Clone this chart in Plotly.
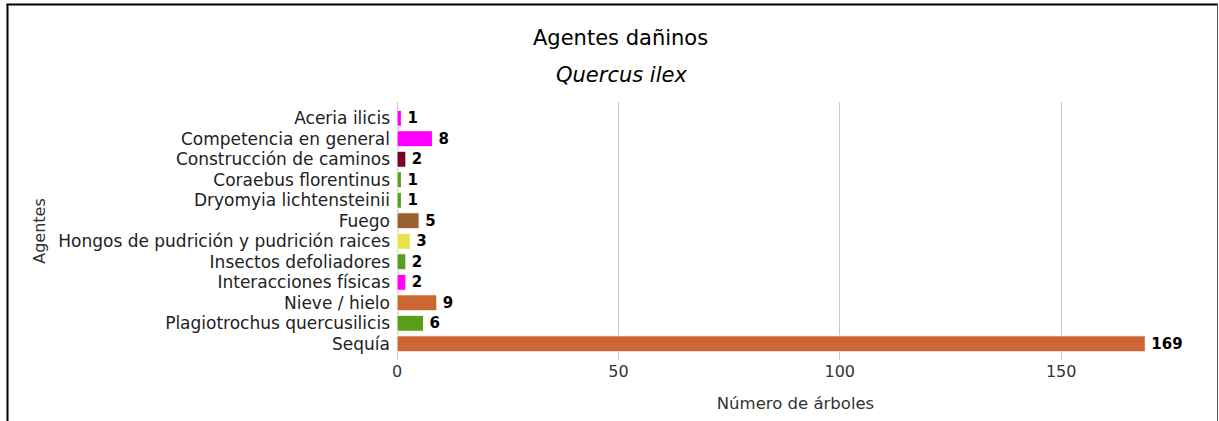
import plotly.graph_objects as go

agentes = ["Aceria ilicis", "Competencia en general", "Construcción de caminos",
           "Coraebus florentinus", "Dryomyia lichtensteinii", "Fuego",
           "Hongos de pudrición y pudrición raices", "Insectos defoliadores",
           "Interacciones físicas", "Nieve / hielo", "Plagiotrochus quercusilicis", "Sequía"]
arboles = [1, 8, 2, 1, 1, 5, 3, 2, 2, 9, 6, 169]
colores = ["#FF00FF", "#FF00FF", "#7A0026", "#5A9E1E", "#5A9E1E", "#9A6030",
           "#E6E34A", "#5A9E1E", "#FF00FF", "#CC6633", "#5A9E1E", "#CC6633"]
x_ticks = [0, 50, 100, 150]

W, H = 1219, 421
L, R, T, B = 397, 25, 102, 61
pw, ph = W - L - R, H - T - B

def px(x):
    return (x - L) / pw

def py(y):
    return (H - B - y) / ph

fig = go.Figure(go.Bar(
    x=arboles, y=agentes, orientation="h",
    marker=dict(color=colores, line=dict(color="white", width=1)),
    texttemplate="\u2009%{x}", textposition="outside", constraintext="none",
    textfont=dict(family="DejaVu Sans", size=15, color="black", weight="bold"),
    cliponaxis=False,
))

shapes = [
    dict(type="line", xref="paper", yref="paper", x0=px(6.5), x1=px(1218), y0=py(4.5), y1=py(4.5),
         line=dict(color="black", width=2)),
    dict(type="line", xref="paper", yref="paper", x0=px(7.5), x1=px(7.5), y0=py(4), y1=py(430),
         line=dict(color="black", width=2)),
    dict(type="line", xref="paper", yref="paper", x0=px(1217.5), x1=px(1217.5), y0=py(4), y1=py(430),
         line=dict(color="#555555", width=1)),
]

fig.update_layout(
    width=W, height=H,
    margin=dict(l=L, r=R, t=T, b=B),
    paper_bgcolor="white", plot_bgcolor="white",
    font=dict(family="DejaVu Sans", size=16.5, color="#333333"),
    bargap=0.22,
    showlegend=False,
    shapes=shapes,
    annotations=[
        dict(text="Agentes dañinos", xref="paper", yref="paper", x=px(620), y=py(38),
             showarrow=False, font=dict(size=21, color="black", family="DejaVu Sans"), xanchor="center", yanchor="middle"),
        dict(text="<i>Quercus ilex</i>", xref="paper", yref="paper", x=px(621), y=py(75),
             showarrow=False, font=dict(size=21, color="black", family="DejaVu Sans"), xanchor="center", yanchor="middle"),
    ],
    xaxis=dict(
        range=[0, 180], tickvals=x_ticks, showgrid=True, gridcolor="#CCCCCC", gridwidth=1,
        zeroline=True, zerolinecolor="#CCCCCC", zerolinewidth=1, showline=False,
        tickfont=dict(family="DejaVu Sans", size=16, color="#333333"),
        title=dict(text="Número de árboles", font=dict(size=16.5, color="#333333"), standoff=17),
    ),
    yaxis=dict(
        categoryorder="array", categoryarray=agentes,
        range=[len(agentes) - 1 + 0.79, -0.79],
        showgrid=False, zeroline=False, showline=False, ticks="",
        ticklabelstandoff=6,
        tickfont=dict(size=17, color="#222222"),
        title=dict(text="Agentes", font=dict(size=16, color="#333333"), standoff=8),
    ),
)

fig.write_html("out.html", config={"displayModeBar": False},
               post_script="document.body.style.margin='0';")
